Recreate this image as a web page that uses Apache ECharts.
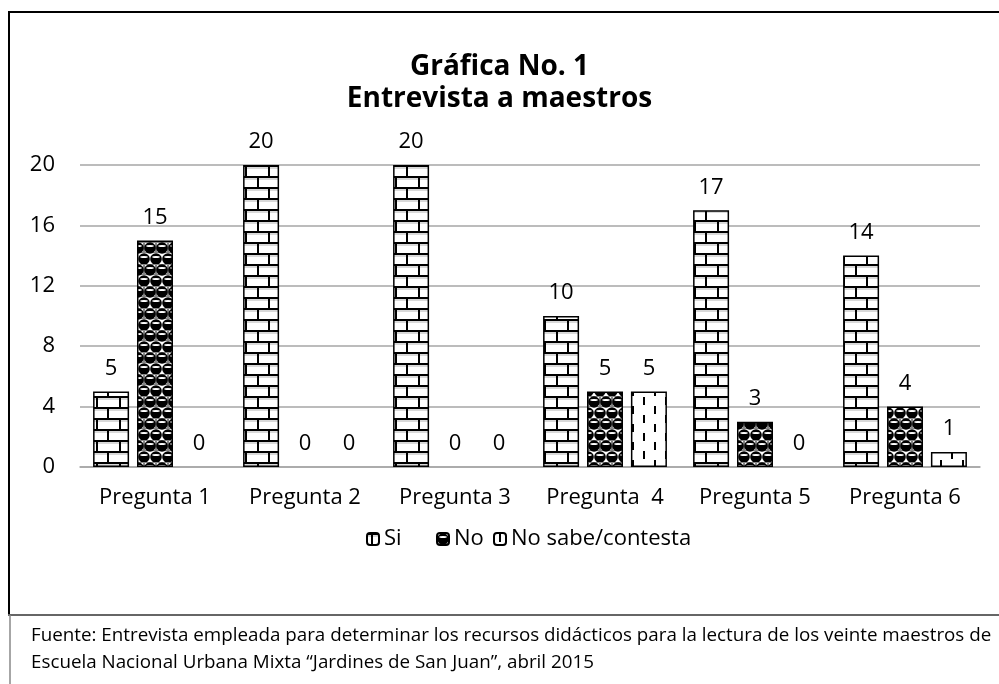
<!DOCTYPE html>
<html>
<head>
<meta charset="utf-8">
<script src="https://cdn.jsdelivr.net/npm/echarts@6/dist/echarts.min.js"></script>
<style>
html,body{margin:0;padding:0;background:#fff;}
#main{width:999px;height:684px;}
</style>
</head>
<body>
<div id="main"></div>
<script>
const categories = ['Pregunta 1', 'Pregunta 2', 'Pregunta 3', 'Pregunta  4', 'Pregunta 5', 'Pregunta 6'];
const seriesNames = ['Si', 'No', 'No sabe/contesta'];
const siValues = [5, 20, 20, 10, 17, 14];
const noValues = [15, 0, 0, 5, 3, 4];
const nsValues = [0, 0, 0, 5, 0, 1];
const yTicks = { min: 0, max: 20, interval: 4 };
const titleLines = ['Gráfica No. 1', 'Entrevista a maestros'];
const footerLines = [
  'Fuente: Entrevista empleada para determinar los recursos didácticos para la lectura de los veinte maestros de',
  'Escuela Nacional Urbana Mixta \u201cJardines de San Juan\u201d, abril 2015'
];

const FONT = 'Open Sans';
const FS = 22;

function brickPattern() {
  const c = document.createElement('canvas');
  c.width = 23; c.height = 22;
  const g = c.getContext('2d');
  g.fillStyle = '#fff'; g.fillRect(0, 0, 23, 22);
  g.fillStyle = '#d9d9d9';
  g.fillRect(0, 2, 23, 2); g.fillRect(0, 13, 23, 2);
  g.fillStyle = '#000';
  g.fillRect(0, 0, 23, 2);
  g.fillRect(0, 11, 23, 2);
  g.fillRect(4, 0, 2, 11);
  g.fillRect(15, 11, 2, 11);
  return c;
}
function ballPattern() {
  const c = document.createElement('canvas');
  c.width = 12; c.height = 22;
  const g = c.getContext('2d');
  g.fillStyle = '#fff'; g.fillRect(0, 0, 12, 22);
  g.strokeStyle = '#888'; g.lineWidth = 1;
  g.strokeRect(0.5, 0.5, 11, 10);
  function ball(x, y) {
    g.beginPath(); g.arc(x, y, 5.8, 0, Math.PI * 2); g.fillStyle = '#000'; g.fill();
    g.beginPath(); g.ellipse(x, y - 2, 3.8, 1.1, 0, 0, Math.PI * 2); g.fillStyle = '#fff'; g.fill();
  }
  ball(6, 6); ball(0, 17); ball(12, 17);
  return c;
}
function dashPattern() {
  const c = document.createElement('canvas');
  c.width = 22; c.height = 18;
  const g = c.getContext('2d');
  g.fillStyle = '#fff'; g.fillRect(0, 0, 22, 18);
  g.fillStyle = '#000';
  g.fillRect(5, 1, 2, 8);
  g.fillRect(16, 10, 2, 8);
  return c;
}
const patterns = [brickPattern(), ballPattern(), dashPattern()];
const valueSets = [siValues, noValues, nsValues];

const chart = echarts.init(document.getElementById('main'));

const series = seriesNames.map((name, i) => ({
  name: name,
  type: 'bar',
  barWidth: 36,
  barGap: '22%',
  itemStyle: {
    color: { image: patterns[i], repeat: 'repeat' },
    borderColor: '#000',
    borderWidth: 1.5
  },
  label: {
    show: true, position: 'top', distance: 12,
    color: '#000', fontFamily: FONT, fontSize: FS
  },
  data: valueSets[i].map(v => v === 0 ? { value: v, itemStyle: { borderWidth: 0 } } : v)
}));

const legendLeft = [366, 436, 493];
const legends = seriesNames.map((name, i) => ({
  data: [name],
  left: legendLeft[i], top: 528, padding: 0,
  itemWidth: 12, itemHeight: 12, itemGap: 5,
  textStyle: { color: '#000', fontFamily: FONT, fontSize: FS },
  selectedMode: false
}));

const option = {
  backgroundColor: '#fff',
  animation: false,
  title: {
    text: titleLines.join('\n'),
    left: 'center', top: 46,
    textStyle: { fontFamily: FONT, fontWeight: 'bold', fontSize: 28, color: '#000', lineHeight: 32 }
  },
  legend: legends,
  grid: { left: 80, right: 19, top: 165, bottom: 217 },
  xAxis: {
    type: 'category', data: categories,
    axisLine: { lineStyle: { color: '#a6a6a6', width: 1.5 } },
    axisTick: { show: false },
    axisLabel: { color: '#000', fontFamily: FONT, fontSize: FS, margin: 20, interval: 0 }
  },
  yAxis: {
    type: 'value', min: yTicks.min, max: yTicks.max, interval: yTicks.interval,
    axisLine: { show: false }, axisTick: { show: false },
    splitLine: { lineStyle: { color: '#a6a6a6', width: 1.5 } },
    axisLabel: { color: '#000', fontFamily: FONT, fontSize: FS, margin: 25 }
  },
  series: series,
  graphic: [
    { type: 'line', shape: { x1: 8, y1: 12, x2: 999, y2: 12 }, style: { stroke: '#000', lineWidth: 2 } },
    { type: 'line', shape: { x1: 9, y1: 12, x2: 9, y2: 615 }, style: { stroke: '#000', lineWidth: 2 } },
    { type: 'line', shape: { x1: 8, y1: 615, x2: 999, y2: 615 }, style: { stroke: '#666', lineWidth: 2 } },
    { type: 'line', shape: { x1: 10, y1: 615, x2: 10, y2: 684 }, style: { stroke: '#888', lineWidth: 1.5 } },
    { type: 'text', left: 31, top: 626, style: { text: footerLines[0], fill: '#000', font: '18.8px "' + FONT + '"' } },
    { type: 'text', left: 31, top: 653, style: { text: footerLines[1], fill: '#000', font: '18.8px "' + FONT + '"' } }
  ]
};
chart.setOption(option);
</script>
</body>
</html>
